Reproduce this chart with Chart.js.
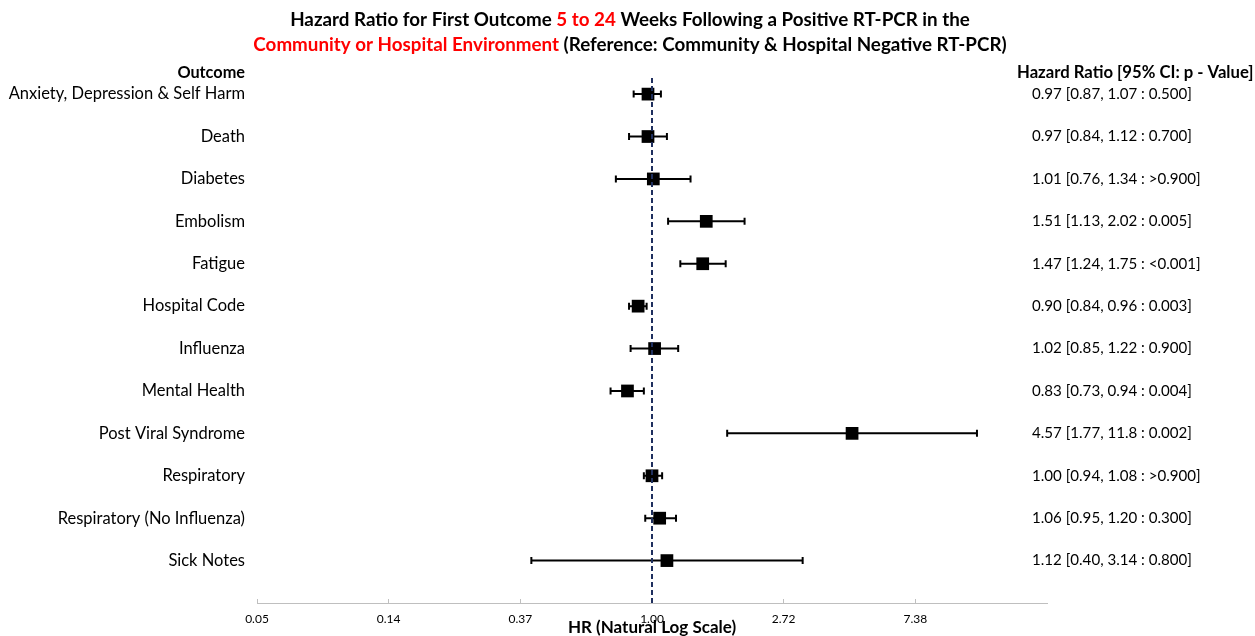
<!DOCTYPE html>
<html>
<head>
<meta charset="utf-8">
<script src="https://cdn.jsdelivr.net/npm/chart.js@4.4.1/dist/chart.umd.min.js"></script>
<style>
    body { margin: 0; background: #fff; }
</style>
</head>
<body>
<canvas id="forest" width="1255" height="636"></canvas>
<script>
    var outcomes = ['Anxiety, Depression & Self Harm', 'Death', 'Diabetes', 'Embolism', 'Fatigue', 'Hospital Code',
        'Influenza', 'Mental Health', 'Post Viral Syndrome', 'Respiratory', 'Respiratory (No Influenza)', 'Sick Notes'];
    var hazardRatios = [0.97, 0.97, 1.01, 1.51, 1.47, 0.90, 1.02, 0.83, 4.57, 1.00, 1.06, 1.12];
    var lowerCI = [0.87, 0.84, 0.76, 1.13, 1.24, 0.84, 0.85, 0.73, 1.77, 0.94, 0.95, 0.40];
    var upperCI = [1.07, 1.12, 1.34, 2.02, 1.75, 0.96, 1.22, 0.94, 11.8, 1.08, 1.20, 3.14];
    var pValues = ['0.500', '0.700', '>0.900', '0.005', '<0.001', '0.003', '0.900', '0.004', '0.002', '>0.900', '0.300', '0.800'];
    var tickPowers = [-3, -2, -1, 0, 1, 2];
    var tickLabels = ['0.05', '0.14', '0.37', '1.00', '2.72', '7.38'];

    var FONT = 'Lato, "Open Sans", sans-serif';
    var RED = '#ff0000';

    function fmt(v) {
        return v >= 10 ? v.toFixed(1) : v.toFixed(2);
    }

    var points = hazardRatios.map(function (hr, i) { return { x: hr, y: i + 1 }; });

    // error bars, reference line, headers, right-hand column and title
    var forestPlugin = {
        id: 'forest',
        beforeDatasetsDraw: function (chart) {
            var ctx = chart.ctx, xs = chart.scales.x, ys = chart.scales.y;
            ctx.save();
            ctx.strokeStyle = '#000';
            ctx.lineWidth = 2;
            for (var i = 0; i < hazardRatios.length; i++) {
                var y = ys.getPixelForValue(i + 1);
                var x1 = xs.getPixelForValue(lowerCI[i]);
                var x2 = xs.getPixelForValue(upperCI[i]);
                ctx.beginPath();
                ctx.moveTo(x1, y); ctx.lineTo(x2, y);
                ctx.moveTo(x1, y - 3.5); ctx.lineTo(x1, y + 3.5);
                ctx.moveTo(x2, y - 3.5); ctx.lineTo(x2, y + 3.5);
                ctx.stroke();
            }
            ctx.restore();
        },
        afterDatasetsDraw: function (chart) {
            var ctx = chart.ctx, xs = chart.scales.x, ys = chart.scales.y, area = chart.chartArea;
            ctx.save();
            // no-effect line at HR = 1
            var x0 = xs.getPixelForValue(1);
            ctx.strokeStyle = '#1f2f5e';
            ctx.lineWidth = 2;
            ctx.setLineDash([5, 3]);
            ctx.beginPath();
            ctx.moveTo(x0, area.top);
            ctx.lineTo(x0, area.bottom);
            ctx.stroke();
            ctx.setLineDash([]);

            // headers
            ctx.fillStyle = '#000';
            ctx.textBaseline = 'middle';
            ctx.font = 'bold 16.3px ' + FONT;
            ctx.textAlign = 'right';
            ctx.fillText('Outcome', 245, 73);
            ctx.textAlign = 'left';
            ctx.font = 'bold 16.7px ' + FONT;
            ctx.fillText('Hazard Ratio [95% CI: p - Value]', 1017, 73);

            // right column
            ctx.font = '15.1px ' + FONT;
            for (var i = 0; i < hazardRatios.length; i++) {
                var txt = fmt(hazardRatios[i]) + ' [' + fmt(lowerCI[i]) + ', ' + fmt(upperCI[i]) + ' : ' + pValues[i] + ']';
                ctx.fillText(txt, 1032, ys.getPixelForValue(i + 1));
            }

            // x axis title
            ctx.font = 'bold 17px ' + FONT;
            ctx.textAlign = 'center';
            ctx.fillText('HR (Natural Log Scale)', x0, 628);

            // title with red highlights
            var lines = [
                [['Hazard Ratio for First Outcome ', '#000'], ['5 to 24', RED], [' Weeks Following a Positive RT-PCR in the', '#000']],
                [['Community or Hospital Environment', RED], [' (Reference: Community & Hospital Negative RT-PCR)', '#000']]
            ];
            var lineY = [20, 45];
            ctx.font = 'bold 18.8px ' + FONT;
            ctx.textAlign = 'left';
            lines.forEach(function (segs, li) {
                var w = 0;
                segs.forEach(function (s) { w += ctx.measureText(s[0]).width; });
                var x = 630 - w / 2;
                segs.forEach(function (s) {
                    ctx.fillStyle = s[1];
                    ctx.fillText(s[0], x, lineY[li]);
                    x += ctx.measureText(s[0]).width;
                });
            });
            ctx.restore();
        }
    };

    new Chart(document.getElementById('forest'), {
        type: 'scatter',
        data: {
            datasets: [{
                data: points,
                pointStyle: 'rect',
                pointRadius: 9,
                pointHoverRadius: 9,
                borderWidth: 0,
                backgroundColor: '#000'
            }]
        },
        options: {
            responsive: false,
            devicePixelRatio: 1,
            animation: false,
            events: [],
            layout: { padding: { top: 78, right: 208, bottom: 0, left: 0 } },
            plugins: { legend: { display: false }, tooltip: { enabled: false } },
            scales: {
                x: {
                    type: 'logarithmic',
                    min: Math.exp(-3),
                    max: Math.exp(3),
                    afterBuildTicks: function (scale) {
                        scale.ticks = tickPowers.map(function (p) { return { value: Math.exp(p) }; });
                    },
                    afterFit: function (scale) { scale.height = 33; },
                    ticks: {
                        autoSkip: false,
                        maxRotation: 0,
                        padding: 13,
                        color: '#000',
                        font: { family: FONT, size: 12 },
                        callback: function (v, i) { return tickLabels[i]; }
                    },
                    grid: { drawOnChartArea: false, color: '#bfbfbf', tickLength: -4 },
                    border: { color: '#bfbfbf', width: 1 }
                },
                y: {
                    type: 'linear',
                    reverse: true,
                    min: 0.62,
                    max: 13,
                    afterBuildTicks: function (scale) {
                        scale.ticks = outcomes.map(function (o, i) { return { value: i + 1 }; });
                    },
                    afterFit: function (scale) { scale.width = 257; },
                    ticks: {
                        padding: 12,
                        color: '#000',
                        font: { family: FONT, size: 16.5 },
                        callback: function (v) { return outcomes[v - 1]; }
                    },
                    grid: { display: false, drawTicks: false },
                    border: { display: false }
                }
            }
        },
        plugins: [forestPlugin]
    });
</script>
</body>
</html>
